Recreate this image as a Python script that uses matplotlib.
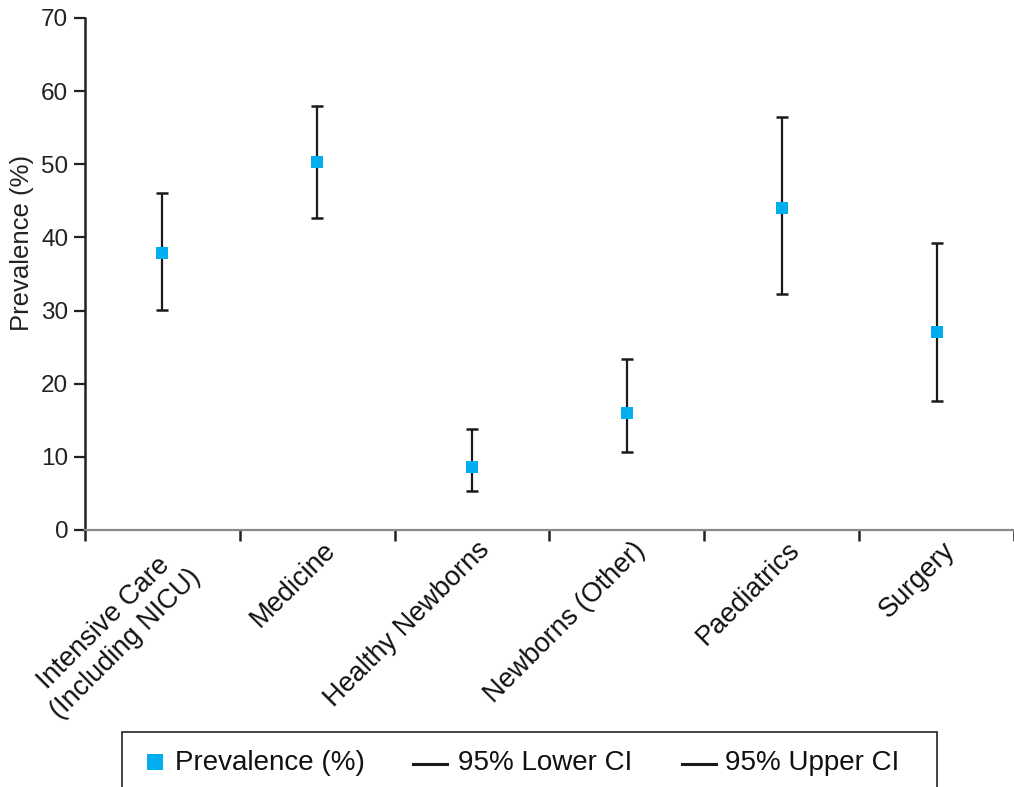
import matplotlib
matplotlib.use("Agg")
import matplotlib.pyplot as plt
import matplotlib.transforms as mtransforms
from matplotlib.patches import Rectangle
from matplotlib.lines import Line2D

categories = ["Intensive Care\n(Including NICU)", "Medicine", "Healthy Newborns",
              "Newborns (Other)", "Paediatrics", "Surgery"]
prevalence = [37.9, 50.3, 8.6, 16.0, 44.0, 27.1]
lower_ci = [30.1, 42.7, 5.3, 10.6, 32.3, 17.6]
upper_ci = [46.1, 58.0, 13.8, 23.4, 56.4, 39.3]
yticks = [0, 10, 20, 30, 40, 50, 60, 70]
legend_labels = ["Prevalence (%)", "95% Lower CI", "95% Upper CI"]

plt.rcParams['font.family'] = ['Liberation Sans', 'DejaVu Sans']

W, H = 1014, 787
fig = plt.figure(figsize=(W / 100, H / 100), dpi=100)
ax = fig.add_axes([85 / W, (H - 530) / H, (1014 - 85) / W, (530 - 18) / H])

x = list(range(len(categories)))
yerr = [[p - l for p, l in zip(prevalence, lower_ci)],
        [u - p for p, u in zip(prevalence, upper_ci)]]
ax.errorbar(x, prevalence, yerr=yerr, fmt='none', ecolor='#1a1a1a',
            elinewidth=1.6, capsize=4.5, capthick=1.8, zorder=2)
ax.plot(x, prevalence, 's', color='#00AEEF', markersize=9, zorder=3,
        markeredgewidth=0)

ax.set_xlim(-0.5, len(categories) - 0.5)
ax.set_ylim(0, 70)
ax.set_yticks(yticks)
ax.set_yticklabels([str(v) for v in yticks], fontsize=17.5, color='#222222')
ax.set_xticks([i - 0.5 for i in range(len(categories) + 1)])
ax.set_xticklabels([])
ax.tick_params(axis='y', direction='out', length=8, width=1.6, color='#222222', pad=4)
ax.tick_params(axis='x', direction='out', length=8, width=1.8, color='#222222')

for s in ['top', 'right']:
    ax.spines[s].set_visible(False)
ax.spines['left'].set_color('#222222')
ax.spines['left'].set_linewidth(1.8)
ax.spines['bottom'].set_color('#8a8a8a')
ax.spines['bottom'].set_linewidth(1.6)

ax.set_ylabel("Prevalence (%)", fontsize=18.5, color='#222222')
ax.yaxis.set_label_coords((34 - 85) / 929, (530 - 243) / 512)

# rotated category labels
for i, lab in enumerate(categories):
    dx, dy = 14, -16
    if "\n" in lab:
        dx, dy = 23, -33
    off = mtransforms.ScaledTranslation(dx / 100, dy / 100, fig.dpi_scale_trans)
    ax.text(i, 0, lab, transform=ax.get_xaxis_transform() + off,
            rotation=45, rotation_mode='anchor', ha='right', va='center',
            multialignment='center', fontsize=19.5, color='#111111',
            linespacing=1.2)

# legend box (extends past bottom of figure)
fig.patches.append(Rectangle((122 / W, -0.05), (937 - 122) / W, (H - 732) / H + 0.05,
                             transform=fig.transFigure, fill=False,
                             edgecolor='#222222', linewidth=1.2))


def fx(px):
    return px / W


def fy(py):
    return (H - py) / H


fig.add_artist(Line2D([fx(155)], [fy(762)], marker='s', linestyle='none',
                      color='#00AEEF', markersize=11.5, markeredgewidth=0,
                      transform=fig.transFigure))
fig.add_artist(Line2D([fx(413), fx(447)], [fy(764), fy(764)], color='#1a1a1a',
                      linewidth=2.2, transform=fig.transFigure))
fig.add_artist(Line2D([fx(682), fx(716)], [fy(764), fy(764)], color='#1a1a1a',
                      linewidth=2.2, transform=fig.transFigure))
for xpos, lab in zip([175, 458, 725], legend_labels):
    fig.text(fx(xpos), fy(770), lab, fontsize=20, color='#111111',
             ha='left', va='baseline')

fig.savefig("out.png", dpi=100)
